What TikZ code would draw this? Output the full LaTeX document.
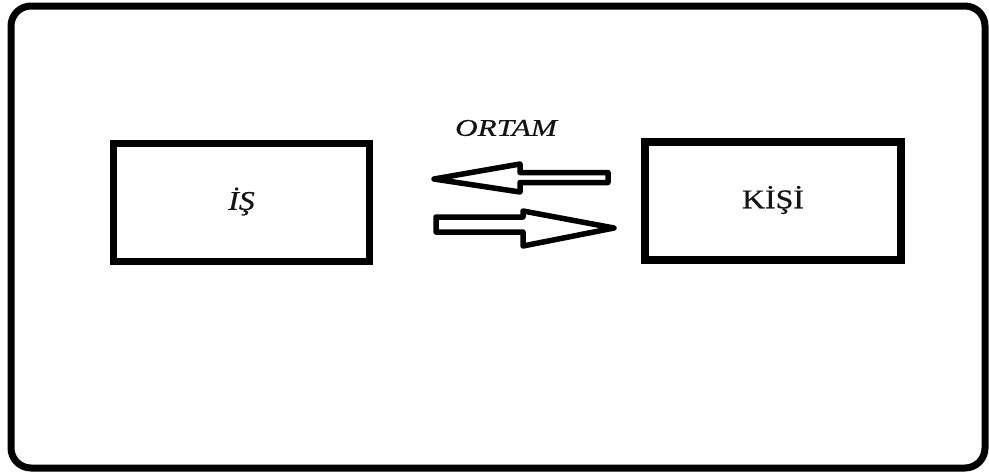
\documentclass[tikz,border=0pt]{standalone}
\usepackage{fontspec}
\setmainfont{Liberation Serif}
\newfontfamily\labelfont[FakeStretch=1.18,FakeBold=0.6]{Liberation Serif}
\newfontfamily\titlefont[FakeStretch=1.3,FakeBold=0.6]{Liberation Serif}
\begin{document}
\begin{tikzpicture}[x=1pt,y=-1pt,
  frame/.style={draw=black, line width=7pt, rounded corners=20pt},
  box/.style={draw=black, line width=7.5pt, minimum width=256pt, minimum height=118pt, inner sep=0pt},
  hollowarrow/.style={draw=black, line width=5.5pt, line join=round, fill=white},
  word/.style={text=black!92, font=\labelfont\fontsize{27}{31}\selectfont, inner sep=0pt}]
  \useasboundingbox (0,0) rectangle (989,472);
  \fill[white] (0,0) rectangle (989,472);
  % outer frame
  \draw[frame] (11,6) rectangle (985,468);
  % the two boxes
  \node[box] (is) at (241.5,202.5) {};
  \node[box] (kisi) at (773,201) {};
  \node[word] (istext) at ([yshift=1pt]is.center) {\itshape İŞ};
  \node[word] (kisitext) at ([yshift=1pt]kisi.center) {KİŞİ};
  % label above the arrows
  \node[word, font=\titlefont\fontsize{24}{28}\selectfont\itshape] (ortam) at (506,128) {ORTAM};
  % arrow towards the left
  \coordinate (ltip) at (434,179);
  \draw[hollowarrow] (ltip) -- (520,164) -- (520,172.5) -- (608,172.5) -- (608,182.5)
        -- (520,182.5) -- (520,192) -- cycle;
  % arrow towards the right
  \coordinate (rtip) at (614,228);
  \draw[hollowarrow] (rtip) -- (523,246) -- (523,232) -- (436,232) -- (436,217)
        -- (523,217) -- (523,211) -- cycle;
\end{tikzpicture}
\end{document}
